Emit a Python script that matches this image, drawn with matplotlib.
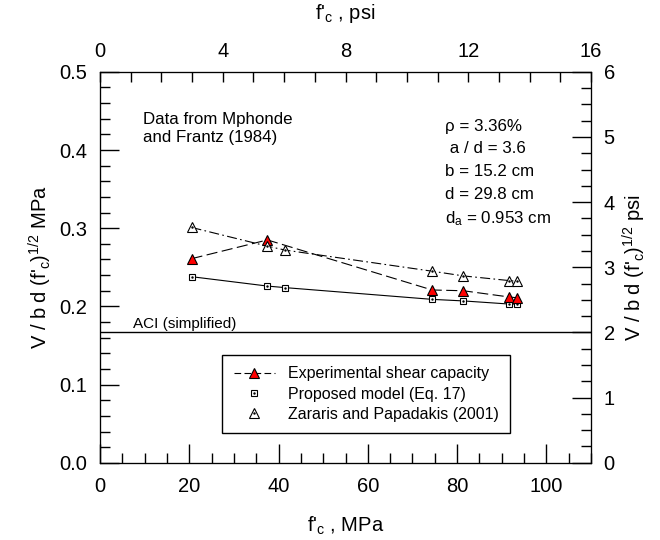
import matplotlib
matplotlib.use("Agg")
import matplotlib.pyplot as plt
from matplotlib.lines import Line2D
from matplotlib.ticker import MultipleLocator, FormatStrFormatter

plt.rcParams['font.family'] = ['Liberation Sans', 'DejaVu Sans']
plt.rcParams['mathtext.fontset'] = 'custom'
plt.rcParams['mathtext.rm'] = 'Liberation Sans'
plt.rcParams['mathtext.it'] = 'Liberation Sans'

# data (f'c in MPa, V/bd sqrt(f'c) in MPa^0.5)
fc_exp = [20.5, 37.5, 74.4, 81.4, 91.7, 93.5]
v_exp = [0.261, 0.285, 0.221, 0.220, 0.212, 0.211]
fc_mod = [20.5, 37.5, 41.5, 74.4, 81.4, 91.7, 93.5]
v_model = [0.238, 0.226, 0.224, 0.209, 0.207, 0.203, 0.203]
v_zararis = [0.301, 0.277, 0.272, 0.245, 0.239, 0.233, 0.232]
aci_simplified = 0.167

info_lines = ["\u03c1 = 3.36%", " a / d = 3.6", "b = 15.2 cm", "d = 29.8 cm",
              "d$_\\mathregular{a}$ = 0.953 cm"]

fig = plt.figure(figsize=(6.6, 5.4), dpi=100)
ax = fig.add_axes([0.1515, 0.143, 0.744, 0.724])

ax.axhline(aci_simplified, color='black', lw=1)
ax.text(7.4, aci_simplified + 0.006, "ACI (simplified)", fontsize=11)

ax.plot(fc_mod, v_model, '-', color='black', lw=0.8)
ax.plot(fc_mod, v_model, 's', ms=5, mfc='white', mec='black', mew=0.8)
ax.plot(fc_mod, v_model, '.', ms=1.5, color='black')

ax.plot(fc_mod, v_zararis, color='black', lw=0.8, ls=(0, (9, 3, 1.5, 3)))
ax.plot(fc_exp, v_exp, color='black', lw=0.8, ls=(0, (10, 4)))
ax.plot(fc_exp, v_exp, '^', ms=7.5, mfc='red', mec='black', mew=0.8)
ax.plot(fc_mod, v_zararis, '^', ms=6.5, mfc='white', mec='black', mew=0.8)
ax.plot(fc_mod, v_zararis, '.', ms=1.5, color='black')

ax.set_xlim(0, 110)
ax.set_ylim(0, 0.5)
ax.xaxis.set_major_locator(MultipleLocator(20))
ax.xaxis.set_minor_locator(MultipleLocator(5))
ax.yaxis.set_major_locator(MultipleLocator(0.1))
ax.yaxis.set_minor_locator(MultipleLocator(0.02))
ax.yaxis.set_major_formatter(FormatStrFormatter('%.1f'))
ax.tick_params(which='both', direction='in', labelsize=14.5, top=False, right=False)
ax.tick_params(which='major', length=14, width=1)
ax.tick_params(which='minor', length=7, width=1)
ax.tick_params(axis='y', which='major', pad=9)
ax.tick_params(axis='x', which='major', pad=10)
ax.set_xlabel("f'$_\\mathregular{c}$ , MPa", fontsize=14.5, labelpad=14)
ax.set_ylabel("V / b d (f'$_\\mathregular{c}$)$^\\mathregular{1/2}$ MPa", fontsize=14.5,
              labelpad=4)

ax_top = ax.twiny()
ax_top.set_xlim(0, 16)
ax_top.xaxis.set_major_locator(MultipleLocator(4))
ax_top.xaxis.set_minor_locator(MultipleLocator(1))
ax_top.tick_params(which='both', direction='in', length=7, width=1, labelsize=14.5)
ax_top.tick_params(which='major', pad=8)
ax_top.set_xlabel("f'$_\\mathregular{c}$ , psi", fontsize=14.5, labelpad=16)

ax_r = ax.twinx()
ax_r.set_ylim(0, 6)
ax_r.yaxis.set_major_locator(MultipleLocator(1))
ax_r.yaxis.set_minor_locator(MultipleLocator(0.25))
ax_r.tick_params(which='both', direction='in', labelsize=14.5)
ax_r.tick_params(which='major', length=14, width=1, pad=9)
ax_r.tick_params(which='minor', length=7, width=1)
ax_r.set_ylabel("V / b d (f'$_\\mathregular{c}$)$^\\mathregular{1/2}$ psi", fontsize=14.5)

ax.text(9.6, 0.449, "Data from Mphonde\nand Frantz (1984)", fontsize=12.2,
        va='top', linespacing=1.25)
for i, s in enumerate(info_lines):
    ax.text(77.3, 0.440 - i * 0.029, s, fontsize=12.2, va='top')

h_exp = Line2D([], [], color='black', lw=0.8, ls=(0, (6, 3)), marker='^', ms=7.5,
               mfc='red', mec='black', mew=0.8)
h_mod = (Line2D([], [], ls='none', marker='s', ms=5, mfc='white', mec='black', mew=0.8),
         Line2D([], [], ls='none', marker='.', ms=1.5, color='black'))
h_zar = (Line2D([], [], ls='none', marker='^', ms=6.5, mfc='white', mec='black', mew=0.8),
         Line2D([], [], ls='none', marker='.', ms=1.5, color='black'))
leg = ax.legend([h_exp, h_mod, h_zar],
                ["Experimental shear capacity", "Proposed model (Eq. 17)",
                 "Zararis and Papadakis (2001)"],
                loc='lower left', bbox_to_anchor=(0.233, 0.056), fontsize=11.5,
                fancybox=False, edgecolor='black', framealpha=1,
                handlelength=2.6, labelspacing=0.32, borderpad=0.7)
leg.get_frame().set_linewidth(1)

fig.savefig("out.png", dpi=100)
